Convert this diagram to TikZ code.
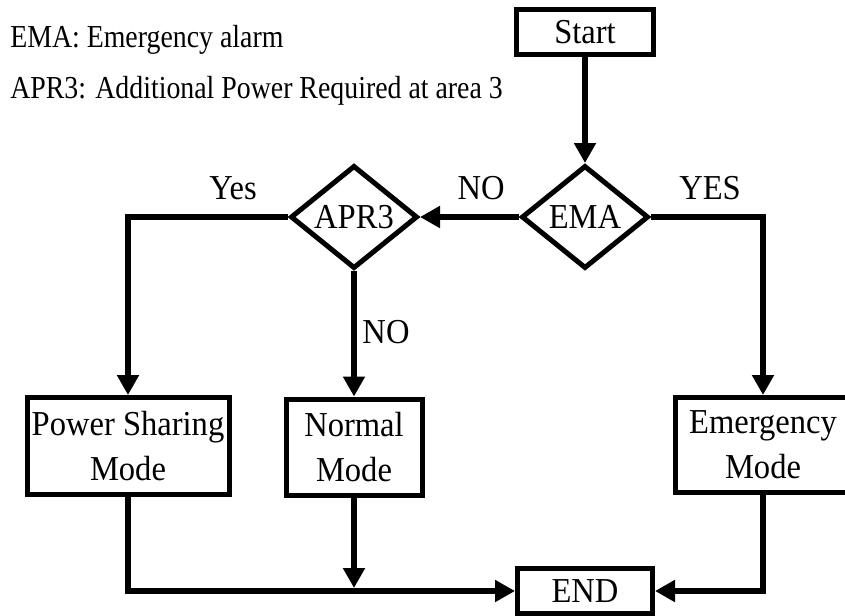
\documentclass[tikz,border=0pt]{standalone}
\usepackage{fontspec}
\setmainfont{Liberation Serif}[FakeStretch=0.93]
\newfontfamily\legfont{Liberation Serif}[FakeStretch=0.87]
\usetikzlibrary{arrows.meta,shapes.geometric}
\newlength\pxu
\setlength\pxu{0.75pt}
\begin{document}
\begin{tikzpicture}[x=0.75pt,y=-0.75pt,
  every node/.style={font=\fontsize{26.25}{33.75}\selectfont},
  box/.style={draw, line width=5\pxu, inner sep=0pt, align=center},
  dia/.style={draw, diamond, line width=5\pxu, inner sep=0pt, minimum width=127\pxu, minimum height=103\pxu},
  conn/.style={line width=4.5pt, line join=miter, -{Triangle[length=15pt,width=15.75pt]}},
  lbl/.style={anchor=base, inner sep=0pt},
  legend/.style={anchor=base west, inner sep=0pt, font=\legfont\fontsize{24}{28}\selectfont}]
\useasboundingbox (0,0) rectangle (845,615);
\clip (0,0) rectangle (845,615);
% legend
\node[legend] (l1) at (10,47) {EMA: Emergency alarm};
\node[legend] (l2) at (10,98) {APR3: Additional Power Required at area 3};
% nodes
\node[box, minimum width=137\pxu, minimum height=45\pxu] (start) at (585,32) {Start};
\node[dia] (ema) at (585,217) {EMA};
\node[dia] (apr) at (354,217) {APR3};
\node[box, minimum width=202\pxu, minimum height=97\pxu] (ps) at (128,446) {Power Sharing\\Mode};
\node[box, minimum width=136\pxu, minimum height=96\pxu] (nm) at (354,447) {Normal\\Mode};
\node[box, minimum width=175\pxu, minimum height=95\pxu] (em) at (763,445) {Emergency\\Mode};
\node[box, minimum width=135\pxu, minimum height=45\pxu] (end) at (585,591) {END};
% labels
\node[lbl] (yes1) at (233,199) {Yes};
\node[lbl] (no1) at (481,199) {NO};
\node[lbl] (yes2) at (710,199) {YES};
\node[lbl] (no2) at (386,343) {NO};
% connectors
\draw[conn] (start) -- (ema);
\draw[conn] (ema.west) -- (apr.east);
\draw[conn] (apr.west) -| (ps.north);
\draw[conn] (ema.east) -| (em.north);
\draw[conn] (apr.south) -- (nm.north);
\draw[conn] (ps.south) |- (end.west);
\draw[conn] (em.south) |- (end.east);
\coordinate (m) at (nm.south |- end.west);
\draw[conn, shorten >=2.25pt] (nm.south) -- (m);
\end{tikzpicture}
\end{document}
